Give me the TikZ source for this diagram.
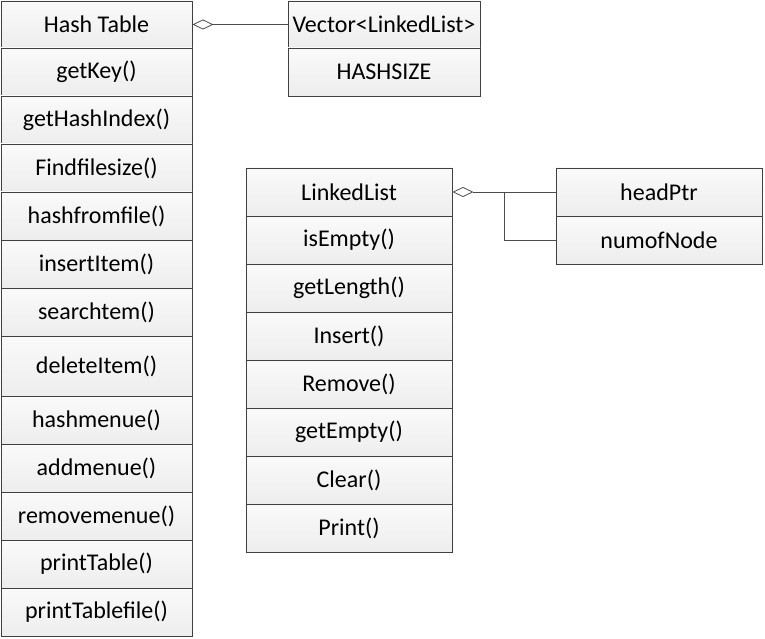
\documentclass[tikz,border=0pt]{standalone}
\usepackage{fontspec}
\setmainfont{Carlito}
\usetikzlibrary{arrows.meta}
\begin{document}
\begin{tikzpicture}[x=1pt,y=-1pt,
  cell/.style={rectangle, draw=black!75, line width=0.9pt,
    top color=white!98!black, bottom color=black!7,
    inner sep=0pt, font=\fontsize{24}{28}\selectfont, text=black},
  lcell/.style={cell, minimum width=191pt},
  wcell/.style={cell, minimum width=206pt},
  vcell/.style={cell, minimum width=192pt},
  agg/.style={draw=black!70, line width=0.8pt,
    -{Diamond[open, fill=white, length=21pt, width=10pt]}},
  link/.style={draw=black!70, line width=0.8pt}]
\useasboundingbox (0,0) rectangle (765,639);

% Hash Table column
\node[lcell, minimum height=47pt] (ht)  at (96.5,24.5) {Hash Table};
\node[lcell, minimum height=48pt] (h1)  at (96.5,72)   {getKey()};
\node[lcell, minimum height=48pt] (h2)  at (96.5,120)  {getHashIndex()};
\node[lcell, minimum height=48pt] (h3)  at (96.5,168)  {Findfilesize()};
\node[lcell, minimum height=48pt] (h4)  at (96.5,216)  {hashfromfile()};
\node[lcell, minimum height=48pt] (h5)  at (96.5,264)  {insertItem()};
\node[lcell, minimum height=48pt] (h6)  at (96.5,312)  {searchtem()};
\node[lcell, minimum height=60pt] (h7)  at (96.5,366)  {deleteItem()};
\node[lcell, minimum height=48pt] (h8)  at (96.5,420)  {hashmenue()};
\node[lcell, minimum height=48pt] (h9)  at (96.5,468)  {addmenue()};
\node[lcell, minimum height=48pt] (h10) at (96.5,516)  {removemenue()};
\node[lcell, minimum height=48pt] (h11) at (96.5,564)  {printTable()};
\node[lcell, minimum height=48pt] (h12) at (96.5,612)  {printTablefile()};

% Vector box
\node[vcell, minimum height=47pt] (vec) at (384,24.5) {Vector<LinkedList>};
\node[vcell, minimum height=48pt] (hs)  at (384,72)   {HASHSIZE};

% LinkedList column
\node[wcell, minimum height=48pt] (ll) at (349,192) {LinkedList};
\node[wcell, minimum height=48pt] (l1) at (349,240) {isEmpty()};
\node[wcell, minimum height=48pt] (l2) at (349,288) {getLength()};
\node[wcell, minimum height=48pt] (l3) at (349,336) {Insert()};
\node[wcell, minimum height=48pt] (l4) at (349,384) {Remove()};
\node[wcell, minimum height=48pt] (l5) at (349,432) {getEmpty()};
\node[wcell, minimum height=48pt] (l6) at (349,480) {Clear()};
\node[wcell, minimum height=48pt] (l7) at (349,528) {Print()};

% Attributes
\node[wcell, minimum height=48pt] (hp) at (659,192) {headPtr};
\node[wcell, minimum height=48pt] (nn) at (659,240) {numofNode};

% Connectors
\draw[agg] (vec.west) -- (ht.east);
\draw[agg] (hp.west) -- (ll.east);
\coordinate (j) at (504,192);
\draw[link] (nn.west) -| (j);
\end{tikzpicture}
\end{document}
